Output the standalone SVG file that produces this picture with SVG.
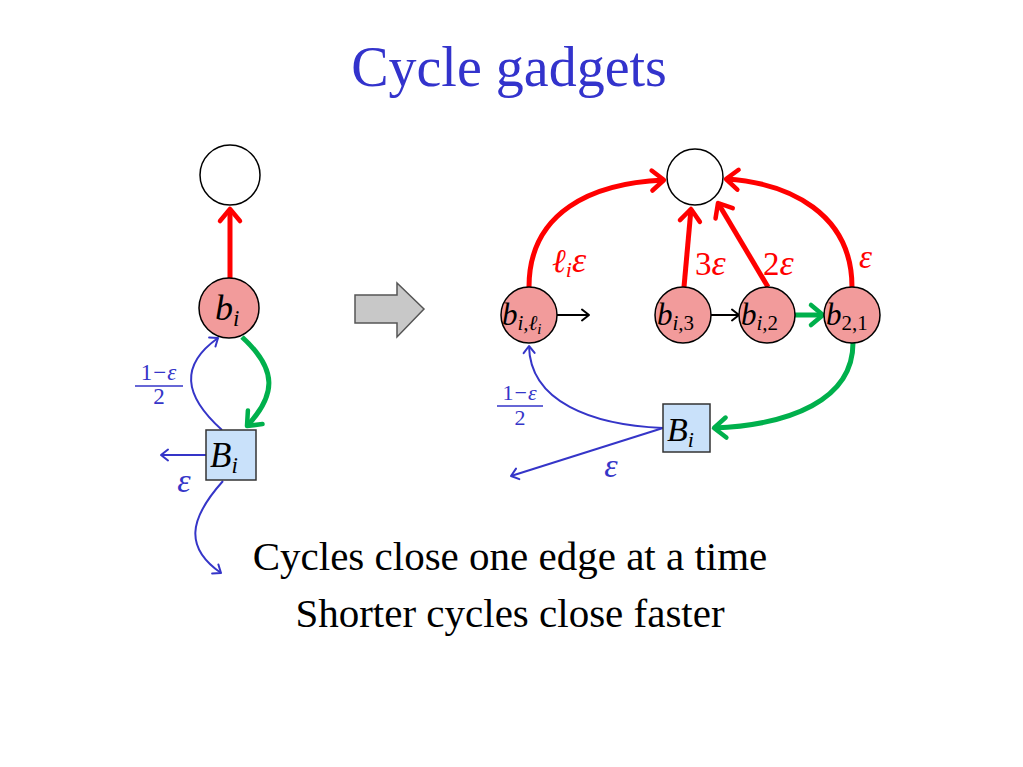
<svg xmlns="http://www.w3.org/2000/svg" width="1023" height="767" viewBox="0 0 1023 767">
<style>
.title{font-family:"Liberation Serif",serif;font-size:56px;fill:#3333cc}
.body{font-family:"Liberation Serif",serif;font-size:41px;fill:#000}
.math{font-family:"Liberation Serif","DejaVu Serif",serif;font-style:italic;fill:#000}
.circ{fill:#fff;stroke:#000;stroke-width:1.5}
.node{fill:#f29b9b;stroke:#000;stroke-width:1.5}
.box{fill:#c9e1fa;stroke:#333;stroke-width:1.5}
.red{fill:none;stroke:#ff0000;stroke-width:5}
.green{fill:none;stroke:#00b04c;stroke-width:5}
.blue{fill:none;stroke:#3535c8;stroke-width:2}
.blk{fill:none;stroke:#000;stroke-width:2}
.rlab{font-family:"Liberation Serif","DejaVu Serif",serif;fill:#ff0000;font-size:33px}
.blab{font-family:"Liberation Serif","DejaVu Serif",serif;fill:#3535c8}
</style>
<defs>
<marker id="mr" markerUnits="userSpaceOnUse" viewBox="-16 -13 20 26" markerWidth="20" markerHeight="26" refX="0" refY="0" orient="auto" overflow="visible">
<path d="M-12,-10 L0,0 L-12,10" fill="none" stroke="#ff0000" stroke-width="4.5" stroke-linejoin="round" stroke-linecap="round"/>
</marker>
<marker id="mg" markerUnits="userSpaceOnUse" viewBox="-16 -13 20 26" markerWidth="20" markerHeight="26" refX="0" refY="0" orient="auto" overflow="visible">
<path d="M-12,-10 L0,0 L-12,10" fill="none" stroke="#00b04c" stroke-width="4.5" stroke-linejoin="round" stroke-linecap="round"/>
</marker>
<marker id="mb" markerUnits="userSpaceOnUse" viewBox="-10 -8 12 16" markerWidth="12" markerHeight="16" refX="0" refY="0" orient="auto" overflow="visible">
<path d="M-7,-5.5 L0,0 L-7,5.5" fill="none" stroke="#3535c8" stroke-width="2" stroke-linejoin="round" stroke-linecap="round"/>
</marker>
<marker id="mk" markerUnits="userSpaceOnUse" viewBox="-10 -8 12 16" markerWidth="12" markerHeight="16" refX="0" refY="0" orient="auto" overflow="visible">
<path d="M-7,-5.5 L0,0 L-7,5.5" fill="none" stroke="#000" stroke-width="2" stroke-linejoin="round" stroke-linecap="round"/>
</marker>
</defs>
<rect width="1023" height="767" fill="#fff"/>
<text class="title" x="509" y="86" text-anchor="middle">Cycle gadgets</text>

<g id="connectors">
<path class="red" d="M230,278 L230,209" marker-end="url(#mr)"/>
<path class="green" d="M242,337 C278,370 276,395 247,426" marker-end="url(#mg)"/>
<path class="blue" d="M222,430 C183,395 180,365 218,338" marker-end="url(#mb)"/>
<path class="blue" d="M206,455 L161,455" marker-end="url(#mb)"/>
<path class="blue" d="M223,481 C188,520 185,548 221,573" marker-end="url(#mb)"/>
<path class="red" d="M529,287 C529,212 592,183 664,180" marker-end="url(#mr)"/>
<path class="red" d="M852,287 C852,214 790,183 726,179" marker-end="url(#mr)"/>
<path class="red" d="M684,287 L691,209" marker-end="url(#mr)"/>
<path class="red" d="M768,287 L718,203" marker-end="url(#mr)"/>
<path class="blk" d="M557,315 L589,315" marker-end="url(#mk)"/>
<path class="blk" d="M711,315 L739,315" marker-end="url(#mk)"/>
<path class="green" d="M795,315 L823,315" marker-end="url(#mg)"/>
<path class="green" d="M853,343 C853,400 790,425 714,428" marker-end="url(#mg)"/>
<path class="blue" d="M663,428 C592,425 530,402 529,346" marker-end="url(#mb)"/>
<path class="blue" d="M663,428 L511,476" marker-end="url(#mb)"/>
</g>

<g id="gray-arrow">
<path d="M355,295 L397,295 L397,283 L424,309 L397,337 L397,323 L355,323 Z" fill="#c8c8c8" stroke="#555" stroke-width="1.5"/>
</g>

<g id="left-top">
<circle class="circ" cx="230" cy="175" r="30"/>
</g>
<g id="left-bi">
<circle class="node" cx="229" cy="308" r="30"/>
<text class="math" x="215" y="320" font-size="36">b<tspan font-size="23" dy="6">i</tspan></text>
</g>
<g id="left-Bi">
<rect class="box" x="206" y="430" width="50" height="50"/>
<text class="math" x="210" y="467" font-size="35">B<tspan font-size="23" dy="6">i</tspan></text>
</g>
<g id="left-labels">
<text class="blab" x="159" y="380" font-size="23" letter-spacing="1" text-anchor="middle">1−<tspan font-style="italic">ε</tspan></text>
<line x1="135" y1="386" x2="183" y2="386" stroke="#3535c8" stroke-width="1.5"/>
<text class="blab" x="159" y="404" font-size="23" text-anchor="middle">2</text>
<text class="blab" x="184" y="492" font-size="34" font-style="italic" text-anchor="middle">ε</text>
</g>

<g id="right-top">
<circle class="circ" cx="695" cy="177" r="28"/>
</g>
<g id="node-bil">
<circle class="node" cx="529" cy="315" r="28"/>
<text class="math" x="502" y="325" font-size="31">b<tspan font-size="21" dy="5">i,ℓ</tspan><tspan font-size="15" dy="4">i</tspan></text>
</g>
<g id="node-bi3">
<circle class="node" cx="683" cy="315" r="28"/>
<text class="math" x="657" y="325" font-size="31">b<tspan font-size="21" dy="5">i,</tspan><tspan font-size="21" font-style="normal">3</tspan></text>
</g>
<g id="node-bi2">
<circle class="node" cx="767" cy="315" r="28"/>
<text class="math" x="741" y="325" font-size="31">b<tspan font-size="21" dy="5">i,</tspan><tspan font-size="21" font-style="normal">2</tspan></text>
</g>
<g id="node-b21">
<circle class="node" cx="852" cy="315" r="28"/>
<text class="math" x="826" y="325" font-size="31">b<tspan font-size="21" dy="5" font-style="normal">2,1</tspan></text>
</g>
<g id="right-Bi">
<rect class="box" x="663" y="404" width="47" height="48"/>
<text class="math" x="667" y="441" font-size="34">B<tspan font-size="22" dy="6">i</tspan></text>
</g>
<g id="right-labels">
<text class="rlab" x="552" y="272" font-style="italic">ℓ<tspan font-size="22" dy="5">i</tspan><tspan dy="-5" font-size="36">ε</tspan></text>
<text class="rlab" x="695" y="275">3<tspan font-style="italic" font-size="36">ε</tspan></text>
<text class="rlab" x="763" y="275">2<tspan font-style="italic" font-size="36">ε</tspan></text>
<text class="rlab" x="859" y="268" font-style="italic" font-size="36">ε</text>
<text class="blab" x="520" y="400" font-size="22" letter-spacing="1" text-anchor="middle">1−<tspan font-style="italic">ε</tspan></text>
<line x1="497" y1="406" x2="543" y2="406" stroke="#3535c8" stroke-width="1.5"/>
<text class="blab" x="520" y="425" font-size="22" text-anchor="middle">2</text>
<text class="blab" x="611" y="477" font-size="34" font-style="italic" text-anchor="middle">ε</text>
</g>

<text class="body" x="510" y="570" text-anchor="middle">Cycles close one edge at a time</text>
<text class="body" x="510" y="627" text-anchor="middle">Shorter cycles close faster</text>
</svg>
